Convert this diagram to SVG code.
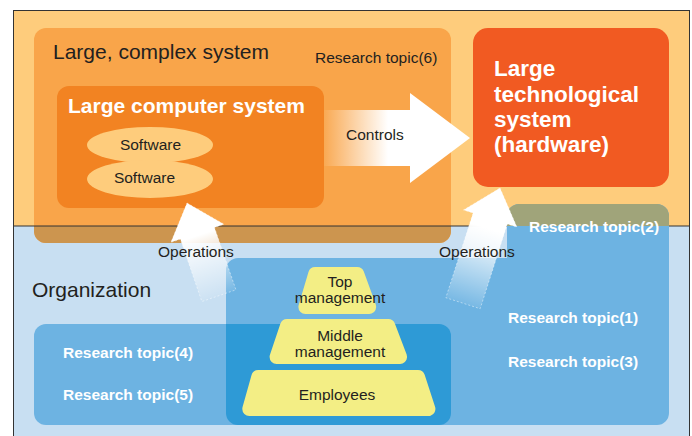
<svg xmlns="http://www.w3.org/2000/svg" width="692" height="436" viewBox="0 0 692 436">
  <defs>
    <linearGradient id="gCtrl" gradientUnits="userSpaceOnUse" x1="324" y1="0" x2="388" y2="0">
      <stop offset="0" stop-color="#fff" stop-opacity="0.05"/>
      <stop offset="1" stop-color="#fff" stop-opacity="1"/>
    </linearGradient>
    <linearGradient id="gOp" x1="0" y1="0" x2="0" y2="1">
      <stop offset="0" stop-color="#fff" stop-opacity="1"/>
      <stop offset="0.35" stop-color="#fff" stop-opacity="1"/>
      <stop offset="1" stop-color="#fff" stop-opacity="0.08"/>
    </linearGradient>
    <style>
      .t { font-family: "Liberation Sans", Arial, sans-serif; fill: #231F20; }
      .s { font-size: 15.5px; }
      .big { font-size: 21px; }
      .w { font-family: "Liberation Sans", Arial, sans-serif; fill: #fff; font-weight: bold; }
      .rt { font-size: 15.5px; }
      .pyr { fill: #F3EE85; stroke: #F3EE85; stroke-width: 14; stroke-linejoin: round; }
      .arrow { fill: url(#gOp); stroke: #fff; stroke-opacity: 0.5; stroke-width: 0.8; stroke-dasharray: 2 2; }
    </style>
  </defs>

  <!-- backgrounds -->
  <rect x="0" y="0" width="692" height="436" fill="#fff"/>
  <rect x="13" y="10" width="677" height="216" fill="#FECC7C"/>
  <rect x="13" y="226" width="677" height="210" fill="#C8DFF2"/>

  <!-- Large, complex system -->
  <g id="complex-system">
    <rect x="34" y="28" width="417" height="215" rx="12" fill="#F9A54A"/>
    <path d="M34,226 V231 A12,12 0 0 0 46,243 H439 A12,12 0 0 0 451,231 V226 Z" fill="#CC954F"/>
    <text class="t big" x="53" y="59">Large, complex system</text>
    <text class="t s" x="315" y="63">Research topic(6)</text>
  </g>

  <!-- frame lines -->
  <line x1="13" y1="226" x2="690" y2="226" stroke="#333" stroke-width="1"/>
  <rect x="13.5" y="10.5" width="676" height="440" fill="none" stroke="#333" stroke-width="1"/>

  <!-- Organization -->
  <g id="organization">
    <text class="t big" x="32" y="297">Organization</text>
  </g>

  <!-- Research areas (blue) -->
  <g id="research-area-main">
    <path d="M238,258 H507 V216 A12,12 0 0 1 519,204 H657 A12,12 0 0 1 669,216 V413 A12,12 0 0 1 657,425 H238 A12,12 0 0 1 226,413 V270 A12,12 0 0 1 238,258 Z" fill="#6DB3E2"/>
    <path d="M507,226 V216 A12,12 0 0 1 519,204 H657 A12,12 0 0 1 669,216 V226 Z" fill="#A0A47A"/>
    <text class="w rt" x="529" y="232">Research topic(2)</text>
    <text class="w rt" x="508" y="323">Research topic(1)</text>
    <text class="w rt" x="508" y="367">Research topic(3)</text>
  </g>
  <g id="research-area-45">
    <rect x="34" y="324" width="417" height="101" rx="12" fill="#6DB3E2"/>
    <path d="M226,324 H439 A12,12 0 0 1 451,336 V413 A12,12 0 0 1 439,425 H238 A12,12 0 0 1 226,413 Z" fill="#2E9AD6"/>
    <text class="w rt" x="63" y="358">Research topic(4)</text>
    <text class="w rt" x="63" y="400">Research topic(5)</text>
  </g>

  <!-- Pyramid -->
  <g id="top-management">
    <polygon class="pyr" points="315.2,274 357.2,274 369.2,307 305.4,307"/>
    <text class="t s" x="340" y="287" text-anchor="middle">Top</text>
    <text class="t s" x="340" y="303" text-anchor="middle">management</text>
  </g>
  <g id="middle-management">
    <polygon class="pyr" points="287,326 388.3,326 400.1,357 276.6,357"/>
    <text class="t s" x="340" y="341" text-anchor="middle">Middle</text>
    <text class="t s" x="340" y="357" text-anchor="middle">management</text>
  </g>
  <g id="employees">
    <polygon class="pyr" points="258.3,377 418,377 428.4,409 249.3,409"/>
    <text class="t s" x="337" y="400" text-anchor="middle">Employees</text>
  </g>

  <!-- Large computer system -->
  <g id="computer-system">
    <rect x="57" y="86" width="267" height="122" rx="12" fill="#F28322"/>
    <text class="w" x="68" y="113" font-size="21">Large computer system</text>
  </g>
  <g id="software-1">
    <ellipse cx="150" cy="145" rx="63" ry="18" fill="#FECC7C"/>
    <text class="t s" x="150.5" y="150" text-anchor="middle">Software</text>
  </g>
  <g id="software-2">
    <ellipse cx="150" cy="179" rx="63" ry="19" fill="#FECC7C"/>
    <text class="t s" x="144.5" y="183" text-anchor="middle">Software</text>
  </g>

  <!-- Large technological system -->
  <g id="hardware">
    <rect x="473" y="28" width="196" height="159" rx="15" fill="#F15A22"/>
    <text class="w" font-size="22.5" x="494" y="76">Large</text>
    <text class="w" font-size="22.5" x="494" y="102">technological</text>
    <text class="w" font-size="22.5" x="494" y="127">system</text>
    <text class="w" font-size="22.5" x="494" y="152">(hardware)</text>
  </g>

  <!-- Connectors -->
  <g id="connectors">
    <polygon points="324,110 410,110 410,93 470,138 410,183 410,166 324,166" fill="url(#gCtrl)"/>
    <polygon class="arrow" transform="translate(187,203) rotate(-19)" points="0,0 28,32 18,32 18,98 -18,98 -18,32 -28,32"/>
    <polygon class="arrow" transform="translate(500,188) rotate(17.8)" points="0,0 28,32 18,32 18,121 -18,121 -18,32 -28,32"/>
    <text class="t s" x="346" y="140">Controls</text>
    <text class="t s" x="158" y="257">Operations</text>
    <text class="t s" x="439" y="257">Operations</text>
  </g>
</svg>
